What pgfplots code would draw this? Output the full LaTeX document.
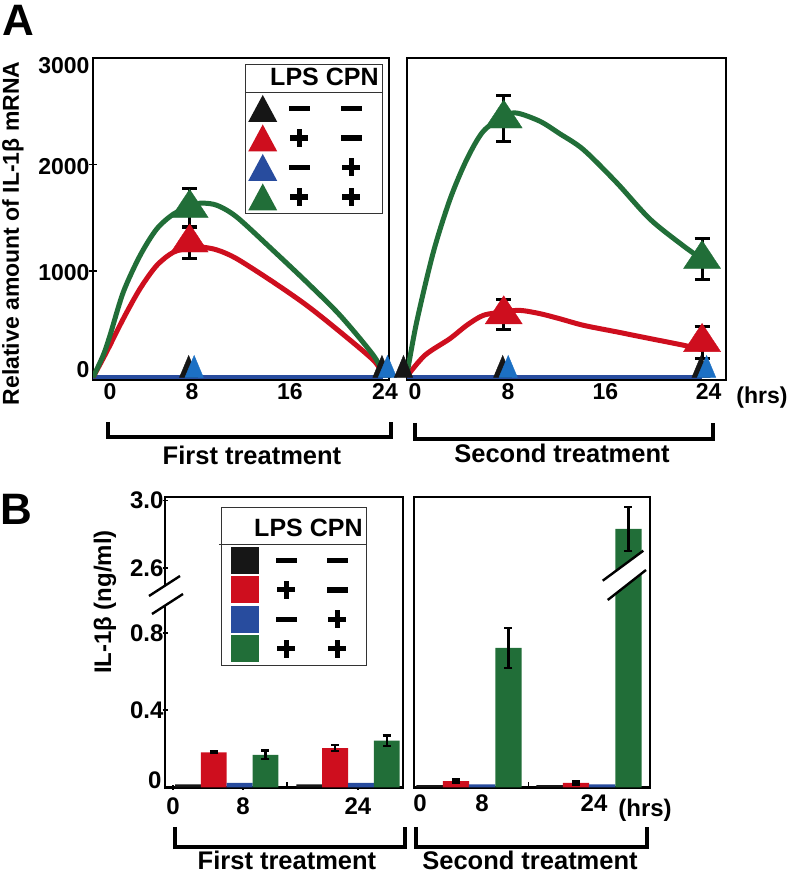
\documentclass[border=0pt]{standalone}
\usepackage{fontspec}
\setmainfont{Liberation Sans}
\usepackage{pgfplots}
\pgfplotsset{compat=1.18}
\definecolor{cgreen}{RGB}{33,110,56}
\definecolor{cred}{RGB}{206,14,30}
\definecolor{cblue}{RGB}{40,76,158}
\definecolor{cbluet}{RGB}{28,112,196}
\definecolor{cblack}{RGB}{22,22,22}
\newcommand\fa{\fontsize{23}{25}\selectfont\bfseries}
\newcommand\fb{\fontsize{24}{26}\selectfont\bfseries}
\newcommand\fc{\fontsize{25.5}{27}\selectfont\bfseries}
\newcommand\fh{\fontsize{25}{27}\selectfont\bfseries}
\newcommand\fbig{\fontsize{44}{46}\selectfont\bfseries}
\newcommand\mn{\makebox[28pt]{\rule[-2.8pt]{21pt}{5.6pt}}}
\newcommand\pl{\makebox[28pt]{\rule[-2.6pt]{18pt}{5.2pt}\hspace{-11.6pt}\rule[-9pt]{5.2pt}{18pt}\hspace{6.4pt}}}
\pgfplotsset{
  triimg/.style={legend image code/.code={\fill[draw=none] (0pt,-13.5pt) -- (29pt,-13.5pt) -- (14.5pt,13.5pt) -- cycle;}},
  sqimg/.style={legend image code/.code={\path[draw=none,fill=none] (0pt,0pt) -- (7pt,0pt); \fill[draw=none] (7pt,-13.5pt) rectangle (35pt,13.5pt);}},
  errA/.style={error bars/.cd, y dir=both, y explicit, error bar style={black, line width=3pt}, error mark options={rotate=90, black, mark size=7.5pt, line width=3pt}},
  errB/.style={error bars/.cd, y dir=both, y explicit, error bar style={black, line width=2.4pt, xshift=#1}, error mark options={rotate=90, black, mark size=4pt, line width=2.4pt}},
  base/.style={scale only axis, anchor=south west, axis line style={line width=2.6pt, black},
    major tick length=0pt, tick pos=left, tick label style={font=\fa}, /pgf/number format/assume math mode=true},
  bigtri/.style={only marks, mark=triangle*, mark size=21.4pt, mark options={yscale=0.875}},
  smtriK/.style={only marks, mark=triangle*, mark size=10.6pt, mark options={xshift=-1pt, yshift=7.3pt, yscale=1.38}},
  smtriB/.style={only marks, mark=triangle*, mark size=10.6pt, mark options={xshift=4.5pt, yshift=7.3pt, yscale=1.38}},
  legA/.style={legend style={at={(0.9797,0.9814)}, anchor=north east, draw=black!80, line width=0.8pt, fill=white,
    inner xsep=3pt, inner ysep=3pt, row sep=2.5pt, column sep=7pt, font=\fa, nodes={inner sep=1pt, text depth=}},
    legend cell align=left},
}
\begin{document}
\begin{tikzpicture}
% ---------------- Panel A, first treatment
\begin{axis}[base, at={(93pt,494pt)}, width=296pt, height=322pt,
  xmin=0, xmax=24.5, ymin=-25, ymax=3000,
  xtick={1.41,8.2,16.3,24.17}, xticklabels={0,8,16,24},
  ytick={73,982,1979,2927}, yticklabels={0,1000,2000,3000},
  extra x ticks={16.2}, extra x tick labels={},
  extra x tick style={major tick length=5pt, tick align=inside, tick style={line width=1.6pt, black}},
  extra y ticks={1000,2000}, extra y tick labels={},
  extra y tick style={major tick length=8pt, tick align=center, tick style={line width=1.6pt, black}},
  legA, legend style={name=legA}]
\addplot[cblack, line width=4pt, forget plot] coordinates {(0,0) (24,0)};
\addplot[cblue, line width=4pt, forget plot] coordinates {(0,0) (24,0)};
\addplot[cred, line width=5pt, smooth, forget plot] coordinates {
 (0,0) (1.13,240) (2.51,551) (3.89,832) (5.27,1050) (6.65,1175) (8,1215) (8.86,1225)
 (10,1205) (11,1165) (12.17,1096) (14.93,894) (17.69,676) (20.45,427) (23.2,162) (24,30)};
\addplot[cgreen, line width=5pt, smooth, forget plot] coordinates {
 (0,0) (0.85,208) (1.41,395) (2.51,801) (3.89,1143) (5.27,1393) (6.65,1533) (8,1605) (8.86,1636)
 (10,1625) (11,1575) (12.17,1480) (14.93,1190) (17.69,894) (20.45,582) (23.2,208) (24,40)};
\addplot[cred, bigtri, forget plot, errA] coordinates {(8,1265) +- (0,150)};
\addplot[cgreen, bigtri, forget plot, errA] coordinates {(8,1590) +- (0,180)};
\addplot[cblack, smtriK, forget plot] coordinates {(8,0) (24,0)};
\addplot[cbluet, smtriB, forget plot] coordinates {(8,0) (24,0)};
\addlegendimage{empty legend}\addlegendentry{\hspace*{-15pt}{\fh LPS CPN}\rule[-5.6pt]{0pt}{23pt}}
\addlegendimage{cblack, triimg}\addlegendentry{\mn\hspace{24pt}\mn}
\addlegendimage{cred, triimg}\addlegendentry{\pl\hspace{24pt}\mn}
\addlegendimage{cblue, triimg}\addlegendentry{\mn\hspace{24pt}\pl}
\addlegendimage{cgreen, triimg}\addlegendentry{\pl\hspace{24pt}\pl}
\end{axis}
\draw[black!80, line width=0.8pt] ([yshift=-28.5pt]legA.north west) -- ([yshift=-28.5pt]legA.north east);
% ---------------- Panel A, second treatment
\begin{axis}[base, at={(407pt,494pt)}, width=319pt, height=322pt, clip=false,
  xmin=0.2, xmax=25.93, ymin=-25, ymax=3000,
  xtick={0.85,8.35,16.2,24.53}, xticklabels={0,8,16,24}, ytick=\empty,
  extra x ticks={15.95}, extra x tick labels={},
  extra x tick style={major tick length=5pt, tick align=inside, tick style={line width=1.6pt, black}}]
\addplot[cblack, line width=4pt, forget plot] coordinates {(0.2,0) (24,0)};
\addplot[cblue, line width=4pt, forget plot] coordinates {(0.2,0) (24,0)};
\addplot[cred, line width=5pt, smooth, forget plot] coordinates {
 (0.2,10) (1.65,208) (3.67,364) (5.02,489) (6.35,582) (7.97,614) (9.31,629) (10.93,598)
 (12.5,551) (14.42,489) (17.11,427) (19.8,364) (22.48,302) (24,260)};
\addplot[cgreen, line width=5pt, smooth, forget plot] coordinates {
 (0.2,30) (0.98,520) (2.32,1174) (3.67,1673) (5.02,2047) (6.35,2311) (8,2450) (9.05,2483)
 (10.93,2405) (12.5,2290) (14.42,2140) (17.11,1829) (19.8,1486) (22.48,1236) (24,1110)};
\addplot[cred, bigtri, forget plot, errA] coordinates {(8,590) +- (0,145) (24,330) +- (0,150)};
\addplot[cgreen, bigtri, forget plot, errA] coordinates {(8,2430) +- (0,218) (24,1110) +- (0,195)};
\addplot[cblack, smtriK, forget plot] coordinates {(0,0) (8,0) (24,0)};
\addplot[cbluet, smtriB, forget plot] coordinates {(8,0) (24,0)};
\end{axis}
% ---------------- Panel B, first treatment
\begin{axis}[base, at={(165pt,86.5pt)}, width=238pt, height=290.5pt,
  tick label style={font=\fb},
  xmin=0.4913, xmax=2.4534, ymin=0, ymax=3.0,
  y coord trafo/.code={\pgfmathparse{ifthenelse(#1>1.5,1.1355+(#1-2.6)*0.916,#1)}},
  y coord inv trafo/.code={\pgfmathparse{ifthenelse(#1>1.2,2.6+(#1-1.1355)/0.916,#1)}},
  xtick={0.557,1.134,2.082}, xticklabels={0,8,24},
  xticklabel style={yshift=-4pt},
  ytick={0.4,0.8,2.6,2.98}, yticklabels={0.4,0.8,2.6,3.0},
  major tick length=5pt, tick align=center, tick style={line width=1.6pt, black},
  yticklabel style={xshift=4.5pt},
  extra y ticks={0.039}, extra y tick labels={0},
  extra y tick style={major tick length=0pt, yticklabel style={xshift=-4.5pt}},
  extra x ticks={1.497}, extra x tick labels={},
  extra x tick style={major tick length=5pt, tick align=inside},
  legA, legend style={name=legB, at={(0.8487,0.9656)}, column sep=12pt, font=\fb}]
\addplot[ybar, bar width=25.8pt, bar shift=-38.7pt, fill=cblack, draw=none, forget plot] coordinates {(1,0.016) (2,0.016)};
\addplot[ybar, bar width=25.8pt, bar shift=-12.9pt, fill=cred, draw=none, forget plot, errB=-12.9pt] coordinates {(1,0.182) +- (0,0.004) (2,0.204) +- (0,0.016)};
\addplot[ybar, bar width=25.8pt, bar shift=12.9pt, fill=cblue, draw=none, forget plot] coordinates {(1,0.024) (2,0.024)};
\addplot[ybar, bar width=25.8pt, bar shift=38.7pt, fill=cgreen, draw=none, forget plot, errB=38.7pt] coordinates {(1,0.169) +- (0,0.022) (2,0.242) +- (0,0.026)};
\addlegendimage{empty legend}\addlegendentry{\hspace*{-18pt}{\fh LPS CPN}\rule[-7.2pt]{0pt}{32pt}}
\addlegendimage{cblack, sqimg}\addlegendentry{\mn\hspace{23pt}\mn}
\addlegendimage{cred, sqimg}\addlegendentry{\pl\hspace{23pt}\mn}
\addlegendimage{cblue, sqimg}\addlegendentry{\mn\hspace{23pt}\pl}
\addlegendimage{cgreen, sqimg}\addlegendentry{\pl\hspace{23pt}\pl}
\end{axis}
\draw[black!80, line width=0.8pt] ([xshift=-2pt,yshift=-37pt]legB.north west) -- ([yshift=-37pt]legB.north east);
% ---------------- Panel B, second treatment
\begin{axis}[base, at={(414pt,86.5pt)}, width=236pt, height=290.5pt,
  tick label style={font=\fb},
  xmin=0.5417, xmax=2.508, ymin=0, ymax=3.0,
  y coord trafo/.code={\pgfmathparse{ifthenelse(#1>1.5,1.1355+(#1-2.6)*0.916,#1)}},
  y coord inv trafo/.code={\pgfmathparse{ifthenelse(#1>1.2,2.6+(#1-1.1355)/0.916,#1)}},
  xtick={0.592,1.108,2.042}, xticklabels={0,8,24}, ytick=\empty,
  xticklabel style={yshift=-4pt},
  extra x ticks={1.494}, extra x tick labels={},
  extra x tick style={major tick length=5pt, tick align=inside, tick style={line width=1.6pt, black}}]
\addplot[ybar, bar width=26.3pt, bar shift=-39.4pt, fill=cblack, draw=none, forget plot] coordinates {(1,0.012) (2,0.012)};
\addplot[ybar, bar width=26.3pt, bar shift=-13.1pt, fill=cred, draw=none, forget plot, errB=-13.1pt] coordinates {(1,0.033) +- (0,0.008) (2,0.024) +- (0,0.008)};
\addplot[ybar, bar width=26.3pt, bar shift=13.1pt, fill=cblue, draw=none, forget plot] coordinates {(1,0.016) (2,0.016)};
\addplot[ybar, bar width=26.3pt, bar shift=39.4pt, fill=cgreen, draw=none, forget plot, errB=39.4pt] coordinates {(1,0.722) +- (0,0.104) (2,2.82) +- (0,0.113)};
\end{axis}
% ---------------- axis breaks
\fill[white] (149pt,278pt) -- (180pt,298pt) -- (183pt,280pt) -- (152pt,260pt) -- cycle;
\draw[line width=2.4pt] (149pt,278pt) -- (180pt,298pt);
\draw[line width=2.4pt] (152pt,260pt) -- (183pt,280pt);
\fill[white] (602.7pt,293.3pt) -- (643.3pt,323.3pt) -- (646pt,304pt) -- (607.7pt,274pt) -- cycle;
\draw[line width=2.4pt] (602.7pt,293.3pt) -- (643.3pt,323.3pt);
\draw[line width=2.4pt] (607.7pt,274pt) -- (646pt,304pt);
% ---------------- brackets and labels
\draw[line width=3.5pt] (108pt,452pt) -- (108pt,437pt) -- (391pt,437pt) -- (391pt,452pt);
\draw[line width=3.5pt] (415pt,451pt) -- (415pt,435pt) -- (713pt,435pt) -- (713pt,451pt);
\draw[line width=3.5pt] (175pt,47pt) -- (175pt,27pt) -- (405pt,27pt) -- (405pt,47pt);
\draw[line width=3.5pt] (416pt,47pt) -- (416pt,27pt) -- (647pt,27pt) -- (647pt,47pt);
\node[font=\fc] at (252pt,419pt) {First treatment};
\node[font=\fc] at (562pt,421pt) {Second treatment};
\node[font=\fc] at (287pt,14pt) {First treatment};
\node[font=\fc] at (530pt,14pt) {Second treatment};
\node[font=\fa] at (762pt,476pt) {(hrs)};
\node[font=\fb] at (645pt,64pt) {(hrs)};
\node[font=\fbig] at (18pt,854pt) {A};
\node[font=\fbig] at (16pt,365pt) {B};
\node[font=\fa, rotate=90] at (13pt,640.5pt) {Relative amount of IL-1β mRNA};
\node[font=\fb, rotate=90] at (105pt,272pt) {IL-1β (ng/ml)};
\pgfresetboundingbox
\useasboundingbox (0pt,0pt) rectangle (797pt,874pt);
\end{tikzpicture}
\end{document}
